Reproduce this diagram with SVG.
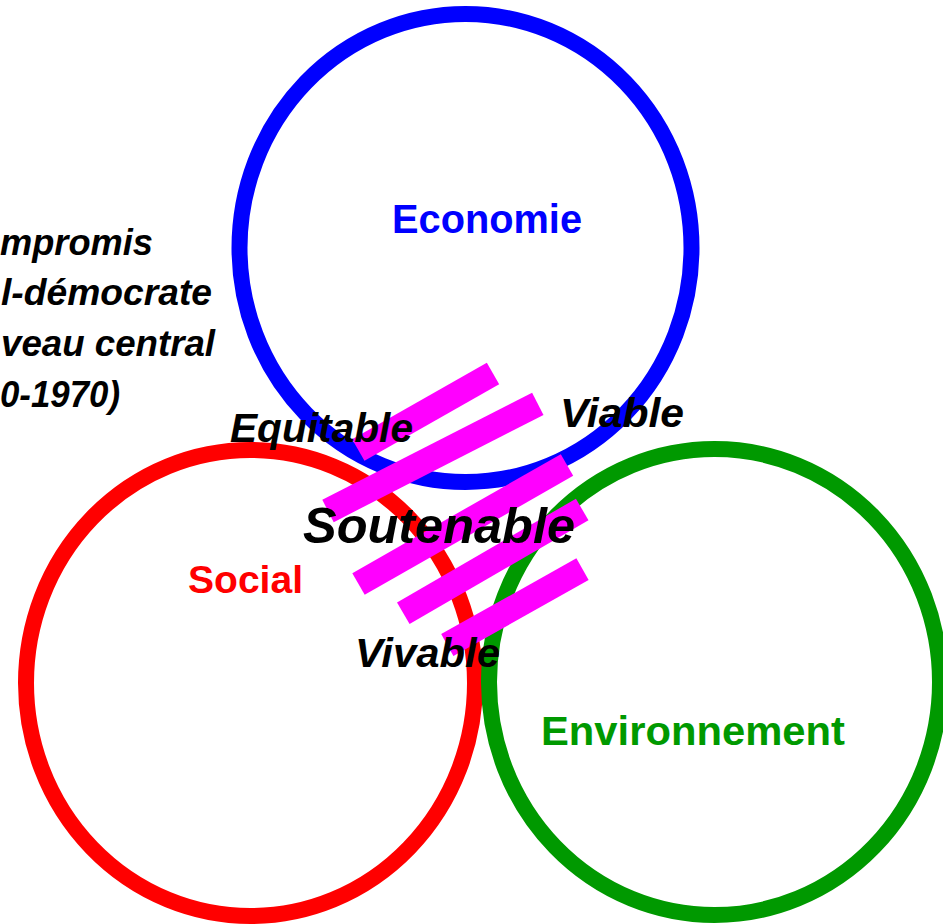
<svg xmlns="http://www.w3.org/2000/svg" width="943" height="924" viewBox="0 0 943 924">
<style>
.ring{fill:none;stroke-width:16}
.lbl{font-family:"Liberation Sans",Arial,sans-serif;font-weight:bold}
.it{font-family:"Liberation Sans",Arial,sans-serif;font-weight:bold;font-style:italic;fill:#000}
.bar{stroke:#FF00FF;stroke-width:25;stroke-linecap:butt}
</style>
<rect width="943" height="924" fill="#fff"/>
<g id="economie">
<ellipse class="ring" cx="465.5" cy="248" rx="226" ry="234" stroke="#0000FF"/>
<text class="lbl" x="392" y="233" font-size="40" fill="#0000FF" textLength="190" lengthAdjust="spacingAndGlyphs">Economie</text>
</g>
<g id="social">
<ellipse class="ring" cx="250.5" cy="683" rx="224.5" ry="233" stroke="#FF0000"/>
<text class="lbl" x="188" y="593" font-size="39" fill="#FF0000" textLength="115" lengthAdjust="spacingAndGlyphs">Social</text>
</g>
<g id="environnement">
<ellipse class="ring" cx="714.5" cy="682" rx="225.5" ry="233" stroke="#009900"/>
<text class="lbl" x="541" y="745" font-size="41" fill="#009900" textLength="304" lengthAdjust="spacingAndGlyphs">Environnement</text>
</g>
<g id="connectors">
<line class="bar" x1="358.3" y1="450" x2="493" y2="373.5"/>
<line class="bar" x1="328" y1="511" x2="537.8" y2="403.8"/>
<line class="bar" x1="358.5" y1="584" x2="567" y2="465"/>
<line class="bar" x1="403.3" y1="613.3" x2="582.2" y2="509.5"/>
<line class="bar" x1="447.3" y1="645" x2="582.5" y2="569.2"/>
</g>
<g id="compromis">
<text class="it" x="0" y="255" font-size="36" textLength="153" lengthAdjust="spacingAndGlyphs">mpromis</text>
<text class="it" x="1" y="305" font-size="36" textLength="211" lengthAdjust="spacingAndGlyphs">l-démocrate</text>
<text class="it" x="1" y="356" font-size="36" textLength="214" lengthAdjust="spacingAndGlyphs">veau central</text>
<text class="it" x="0" y="407" font-size="36" textLength="120" lengthAdjust="spacingAndGlyphs">0-1970)</text>
</g>
<g id="equitable">
<text class="it" x="230" y="442" font-size="40" textLength="183" lengthAdjust="spacingAndGlyphs">Equitable</text>
</g>
<g id="viable">
<text class="it" x="560" y="427" font-size="41" textLength="124" lengthAdjust="spacingAndGlyphs">Viable</text>
</g>
<g id="soutenable">
<text class="it" x="303" y="543" font-size="50" textLength="272" lengthAdjust="spacingAndGlyphs">Soutenable</text>
</g>
<g id="vivable">
<text class="it" x="355" y="667" font-size="41" textLength="145" lengthAdjust="spacingAndGlyphs">Vivable</text>
</g>
</svg>
